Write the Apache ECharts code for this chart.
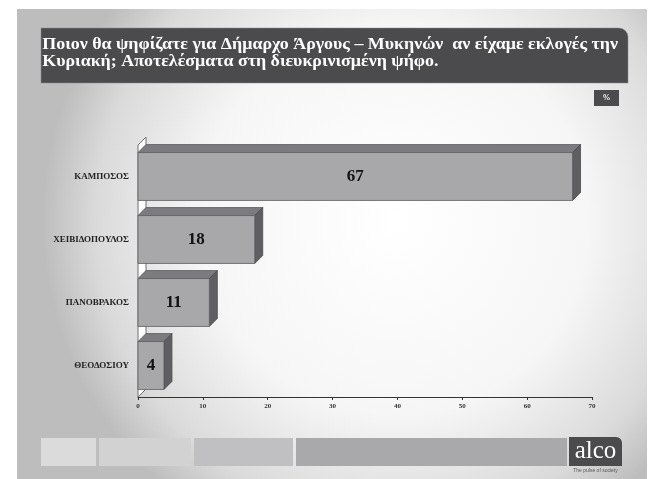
<!DOCTYPE html>
<html>
<head>
<meta charset="utf-8">
<script src="https://cdn.jsdelivr.net/npm/echarts@6/dist/echarts.min.js"></script>
<style>
html,body{margin:0;padding:0;background:#fff;}
#c{width:653px;height:479px;}
</style>
</head>
<body>
<div id="c"></div>
<script>
const categories = ['ΚΑΜΠΟΣΟΣ', 'ΧΕΙΒΙΔΟΠΟΥΛΟΣ', 'ΠΑΝΟΒΡΑΚΟΣ', 'ΘΕΟΔΟΣΙΟΥ'];
const values = [67, 18, 11, 4];
const xTicks = [0, 10, 20, 30, 40, 50, 60, 70];
const titleLines = ['Ποιον θα ψηφίζατε για Δήμαρχο Άργους – Μυκηνών  αν είχαμε εκλογές την', 'Κυριακή; Αποτελέσματα στη διευκρινισμένη ψήφο.'];

const SERIF = '"Liberation Serif","DejaVu Serif",serif';
const chart = echarts.init(document.getElementById('c'));

const DEPTH = 8;
function renderItem(params, api) {
  const ci = api.value(1);
  const start = api.coord([0, ci]);
  const end = api.coord([api.value(0), ci]);
  const band = api.size([0, 1])[1];
  const h = band * 0.76;
  const x0 = start[0], x1 = end[0], yc = end[1];
  const yT = yc - h / 2, yB = yc + h / 2, d = DEPTH;
  const children = [];
  if (params.dataIndex === 0) {
    const top = api.coord([0, 0])[1] - band / 2;
    const bottom = api.coord([0, categories.length - 1])[1] + band / 2;
    children.push({
      type: 'polygon',
      shape: { points: [[x0, bottom], [x0, top], [x0 + d, top - d], [x0 + d, bottom - d]] },
      style: { fill: '#ffffff', stroke: '#6e6e70', lineWidth: 1 }
    });
  }
  children.push({
    type: 'polygon',
    shape: { points: [[x0, yT], [x1, yT], [x1 + d, yT - d], [x0 + d, yT - d]] },
    style: { fill: '#7c7c80', stroke: '#5a5a5e', lineWidth: 0.8 }
  });
  children.push({
    type: 'polygon',
    shape: { points: [[x1, yT], [x1 + d, yT - d], [x1 + d, yB - d], [x1, yB]] },
    style: { fill: '#5f5f63', stroke: '#4a4a4e', lineWidth: 0.8 }
  });
  children.push({
    type: 'rect',
    shape: { x: x0, y: yT, width: x1 - x0, height: h },
    style: { fill: '#a8a8ab', stroke: '#5e5e62', lineWidth: 0.8 }
  });
  children.push({
    type: 'text',
    style: {
      text: String(api.value(0)), x: (x0 + x1) / 2, y: yc,
      align: 'center', verticalAlign: 'middle',
      fill: '#111', font: 'bold 17px ' + SERIF
    }
  });
  return { type: 'group', children: children };
}

const option = {
  backgroundColor: '#ffffff',
  animation: false,
  graphic: [
    {
      type: 'rect', z: -10, silent: true,
      shape: { x: 17, y: 9, width: 630, height: 470 },
      style: {
        fill: {
          type: 'radial', x: 0.6, y: 0.45, r: 0.75,
          colorStops: [
            { offset: 0, color: '#ffffff' },
            { offset: 0.55, color: '#f6f6f6' },
            { offset: 0.85, color: '#dadada' },
            { offset: 1, color: '#bdbdbd' }
          ]
        }
      }
    },
    {
      type: 'rect', z: 5,
      shape: { x: 41, y: 28, width: 587, height: 55, r: [0, 9, 0, 0] },
      style: { fill: '#4b4a4d', stroke: '#8a8a8a', lineWidth: 0.5 }
    },
    {
      type: 'text', z: 6, x: 48, y: 45, scaleX: 1.12, originX: 48, originY: 45,
      style: { text: titleLines[0], fill: '#ffffff', font: 'bold 16px ' + SERIF, verticalAlign: 'middle' }
    },
    {
      type: 'text', z: 6, x: 48, y: 62, scaleX: 1.12, originX: 48, originY: 62,
      style: { text: titleLines[1], fill: '#ffffff', font: 'bold 16px ' + SERIF, verticalAlign: 'middle' }
    },
    {
      type: 'rect', z: 5,
      shape: { x: 594, y: 90, width: 25, height: 16 },
      style: { fill: '#4b4a4d' }
    },
    {
      type: 'text', z: 6, x: 606.5, y: 98,
      style: { text: '%', fill: '#ffffff', font: 'bold 8px ' + SERIF, align: 'center', verticalAlign: 'middle' }
    },
    { type: 'rect', z: 1, shape: { x: 41, y: 438, width: 55, height: 28 }, style: { fill: '#dbdbdb' } },
    { type: 'rect', z: 1, shape: { x: 99, y: 438, width: 92, height: 28 }, style: { fill: '#d2d2d3' } },
    { type: 'rect', z: 1, shape: { x: 194, y: 438, width: 99, height: 28 }, style: { fill: '#c0c0c2' } },
    { type: 'rect', z: 1, shape: { x: 296, y: 438, width: 271, height: 28 }, style: { fill: '#a9a9ab' } },
    {
      type: 'rect', z: 1,
      shape: { x: 569, y: 437, width: 53, height: 29, r: [0, 6, 0, 0] },
      style: { fill: '#4b4a4d' }
    },
    {
      type: 'text', z: 2, x: 595.5, y: 451,
      style: { text: 'alco', fill: '#ffffff', font: '25px ' + SERIF, align: 'center', verticalAlign: 'middle' }
    },
    {
      type: 'text', z: 2, x: 595.5, y: 471,
      style: { text: 'The pulse of society', fill: '#555', font: '5px "Liberation Sans",sans-serif', align: 'center', verticalAlign: 'middle' }
    }
  ],
  grid: { left: 138, right: 61, top: 145, bottom: 82, containLabel: false },
  xAxis: {
    type: 'value', min: xTicks[0], max: xTicks[xTicks.length - 1], interval: 10,
    axisLine: { show: true, lineStyle: { color: '#333', width: 1 } },
    axisTick: { show: true, length: 3, lineStyle: { color: '#333' } },
    axisLabel: { color: '#333', fontFamily: SERIF, fontWeight: 'bold', fontSize: 7, margin: 6 },
    splitLine: { show: false }
  },
  yAxis: {
    type: 'category', data: categories, inverse: true,
    axisLine: { show: false }, axisTick: { show: false },
    axisLabel: { color: '#222', fontFamily: SERIF, fontWeight: 'bold', fontSize: 9, margin: 9 }
  },
  series: [{
    type: 'custom',
    renderItem: renderItem,
    encode: { x: 0, y: 1 },
    data: values.map((v, i) => [v, i]),
    z: 3
  }]
};
chart.setOption(option);
</script>
</body>
</html>
